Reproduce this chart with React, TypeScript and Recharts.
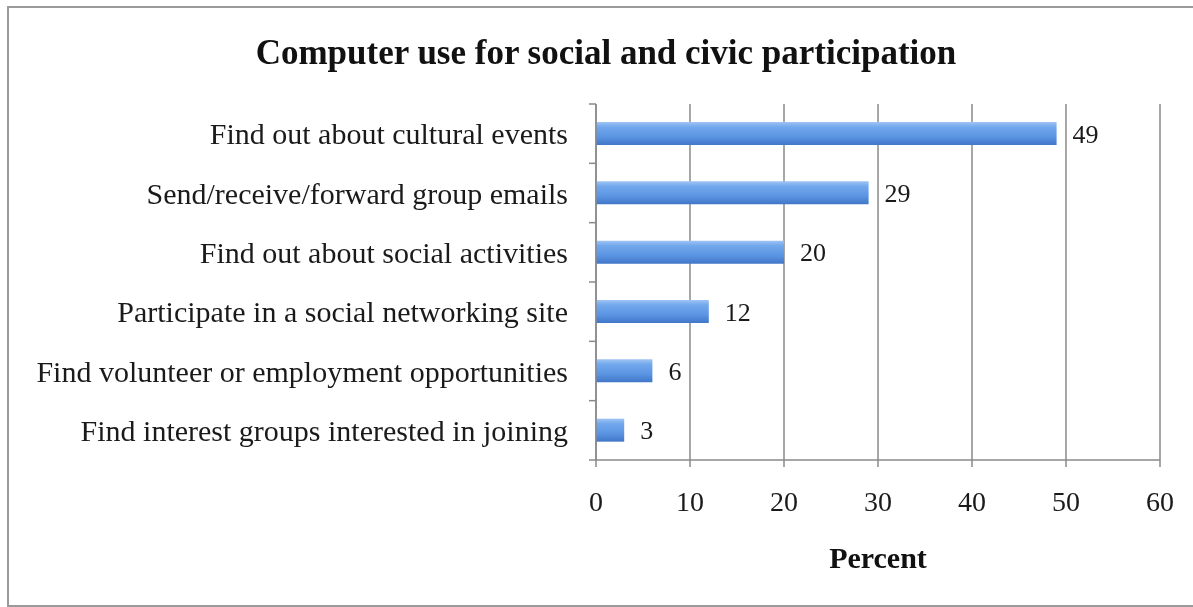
import React from 'react';
import { BarChart, Bar, XAxis, YAxis, CartesianGrid, LabelList } from 'recharts';

const categories = [
  'Find out about cultural events',
  'Send/receive/forward group emails',
  'Find out about social activities',
  'Participate in a social networking site',
  'Find volunteer or employment opportunities',
  'Find interest groups interested in joining',
];
const percents = [49, 29, 20, 12, 6, 3];
const xTicks = [0, 10, 20, 30, 40, 50, 60];

const data = categories.map((c, i) => ({ name: c, value: percents[i] }));

const FONT = '"Liberation Serif", "Times New Roman", serif';
const AXIS = '#8a8a8a';

const YTick = (props: any) => {
  const { x, y, payload, index, visibleTicksCount } = props;
  const half = payload && payload.offset ? payload.offset : 29.75;
  const last = index === (visibleTicksCount ?? categories.length) - 1;
  return (
    <g>
      <line x1={x + 21} x2={x + 28} y1={y - half} y2={y - half} stroke={AXIS} strokeWidth={1.5} />
      {last && <line x1={x + 21} x2={x + 28} y1={y + half} y2={y + half} stroke={AXIS} strokeWidth={1.5} />}
      <text x={x} y={y} textAnchor="end" dominantBaseline="central" fontFamily={FONT} fontSize={30} fill="#1a1a1a">
        {payload.value}
      </text>
    </g>
  );
};

export default function App() {
  return (
    <div style={{ position: 'fixed', left: 0, top: 0, width: 1193, height: 607, overflow: 'hidden' }}>
      <div
        style={{
          position: 'absolute',
          left: 7,
          top: 6,
          width: 1192,
          height: 601,
          border: '2px solid #9a9a9a',
          boxSizing: 'border-box',
        }}
      />
      <div
        style={{
          position: 'absolute',
          left: 0,
          width: 1212,
          top: 33,
          textAlign: 'center',
          fontFamily: FONT,
          fontWeight: 'bold',
          fontSize: 35,
          color: '#111',
          lineHeight: '40px',
        }}
      >
        Computer use for social and civic participation
      </div>
      <div
        style={{
          position: 'absolute',
          left: 596,
          width: 564,
          top: 541,
          textAlign: 'center',
          fontFamily: FONT,
          fontWeight: 'bold',
          fontSize: 30,
          color: '#111',
          lineHeight: '34px',
        }}
      >
        Percent
      </div>
      <div style={{ position: 'absolute', left: 0, top: 0 }}>
        <BarChart
          width={1193}
          height={607}
          data={data}
          layout="vertical"
          margin={{ top: 104, right: 33, bottom: 87, left: 10 }}
        >
          <defs>
            <linearGradient id="barGrad" x1="0" y1="0" x2="0" y2="1">
              <stop offset="0%" stopColor="#9fc4f4" />
              <stop offset="22%" stopColor="#72a8ec" />
              <stop offset="65%" stopColor="#5a94e2" />
              <stop offset="100%" stopColor="#4176c8" />
            </linearGradient>
          </defs>
          <CartesianGrid horizontal={false} stroke={AXIS} strokeWidth={1.5} />
          <XAxis
            type="number"
            domain={[0, 60]}
            ticks={xTicks}
            interval={0}
            height={60}
            tickSize={7}
            tickMargin={24}
            stroke={AXIS}
            axisLine={{ stroke: AXIS, strokeWidth: 1.5 }}
            tickLine={{ stroke: AXIS, strokeWidth: 1.5 }}
            tick={{ fontFamily: FONT, fontSize: 28, fill: '#1a1a1a' }}
          />
          <YAxis
            type="category"
            dataKey="name"
            width={586}
            interval={0}
            tickSize={7}
            tickMargin={21}
            axisLine={{ stroke: AXIS, strokeWidth: 1.5 }}
            tickLine={false}
            tick={<YTick />}
          />
          <Bar dataKey="value" fill="url(#barGrad)" barSize={23} isAnimationActive={false}>
            <LabelList
              dataKey="value"
              position="right"
              offset={16}
              style={{ fontFamily: FONT, fontSize: 26, fill: '#1a1a1a' }}
            />
          </Bar>
        </BarChart>
      </div>
    </div>
  );
}
